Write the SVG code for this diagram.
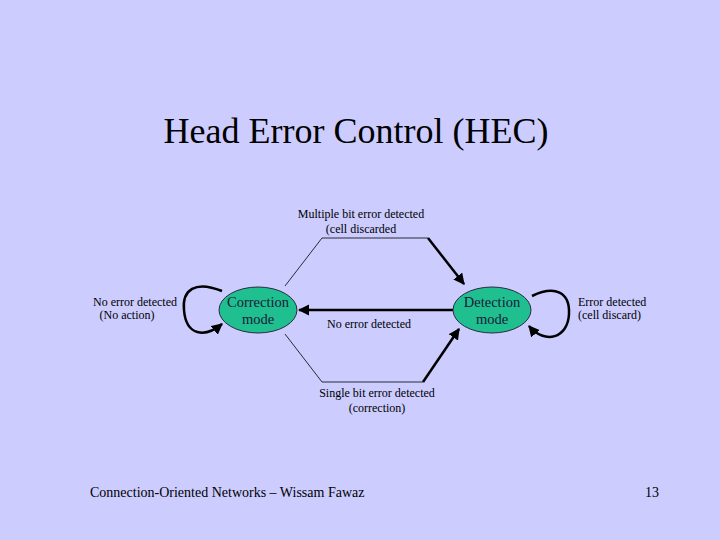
<svg xmlns="http://www.w3.org/2000/svg" width="720" height="540" viewBox="0 0 720 540">
<defs>
<style>
.t{font-family:"Liberation Serif","Times New Roman",serif;fill:#000}
.s{font-size:12px}
.n{font-size:14.5px;text-anchor:middle;fill:#1a1a3a}
.node{fill:#1FBF8F;stroke:#2a2a40;stroke-width:1}
.thin{fill:none;stroke:#000;stroke-width:0.8}
.thick{fill:none;stroke:#000;stroke-width:2.5}
</style>
<marker id="ah" viewBox="0 0 10 10" refX="9" refY="5" markerWidth="4.5" markerHeight="4.5" orient="auto" markerUnits="strokeWidth">
<path d="M0,0 L10,5 L0,10 Z" fill="#000"/>
</marker>
</defs>
<rect width="720" height="540" fill="#CCCCFF"/>
<text class="t" x="356" y="143" font-size="36" text-anchor="middle">Head Error Control (HEC)</text>
<g id="connectors">
<polyline class="thin" points="285,286 322,238 428,238"/>
<line class="thick" x1="428" y1="238" x2="464" y2="284" marker-end="url(#ah)"/>
<polyline class="thin" points="285,334 322,382 423,382"/>
<line class="thick" x1="423" y1="382" x2="459" y2="329" marker-end="url(#ah)"/>
<line class="thick" x1="453" y1="310" x2="299" y2="310" marker-end="url(#ah)"/>
<path class="thick" d="M222,291 C195,280 182,290 184,310 C186,336 205,338 222,324" marker-end="url(#ah)"/>
<path class="thick" d="M532,296 C555,285 570,292 569,314 C568,338 545,345 529,326" marker-end="url(#ah)"/>
</g>
<g id="correction">
<ellipse class="node" cx="258" cy="310" rx="39" ry="23"/>
<text class="t n" x="258" y="307">Correction</text>
<text class="t n" x="258" y="324">mode</text>
</g>
<g id="detection">
<ellipse class="node" cx="492" cy="310" rx="39" ry="23"/>
<text class="t n" x="492" y="307">Detection</text>
<text class="t n" x="492" y="324">mode</text>
</g>
<g id="labels">
<text class="t s" x="361" y="218" text-anchor="middle">Multiple bit error detected</text>
<text class="t s" x="361" y="233" text-anchor="middle">(cell discarded</text>
<text class="t s" x="369" y="328" text-anchor="middle">No error detected</text>
<text class="t s" x="377" y="397" text-anchor="middle">Single bit error detected</text>
<text class="t s" x="377" y="412" text-anchor="middle">(correction)</text>
<text class="t s" x="135" y="306" text-anchor="middle">No error detected</text>
<text class="t s" x="127" y="319" text-anchor="middle">(No action)</text>
<text class="t s" x="578" y="306">Error detected</text>
<text class="t s" x="578" y="319">(cell discard)</text>
</g>
<text class="t" x="90" y="497" font-size="14">Connection-Oriented Networks – Wissam Fawaz</text>
<text class="t" x="659" y="497" font-size="14" text-anchor="end">13</text>
</svg>
